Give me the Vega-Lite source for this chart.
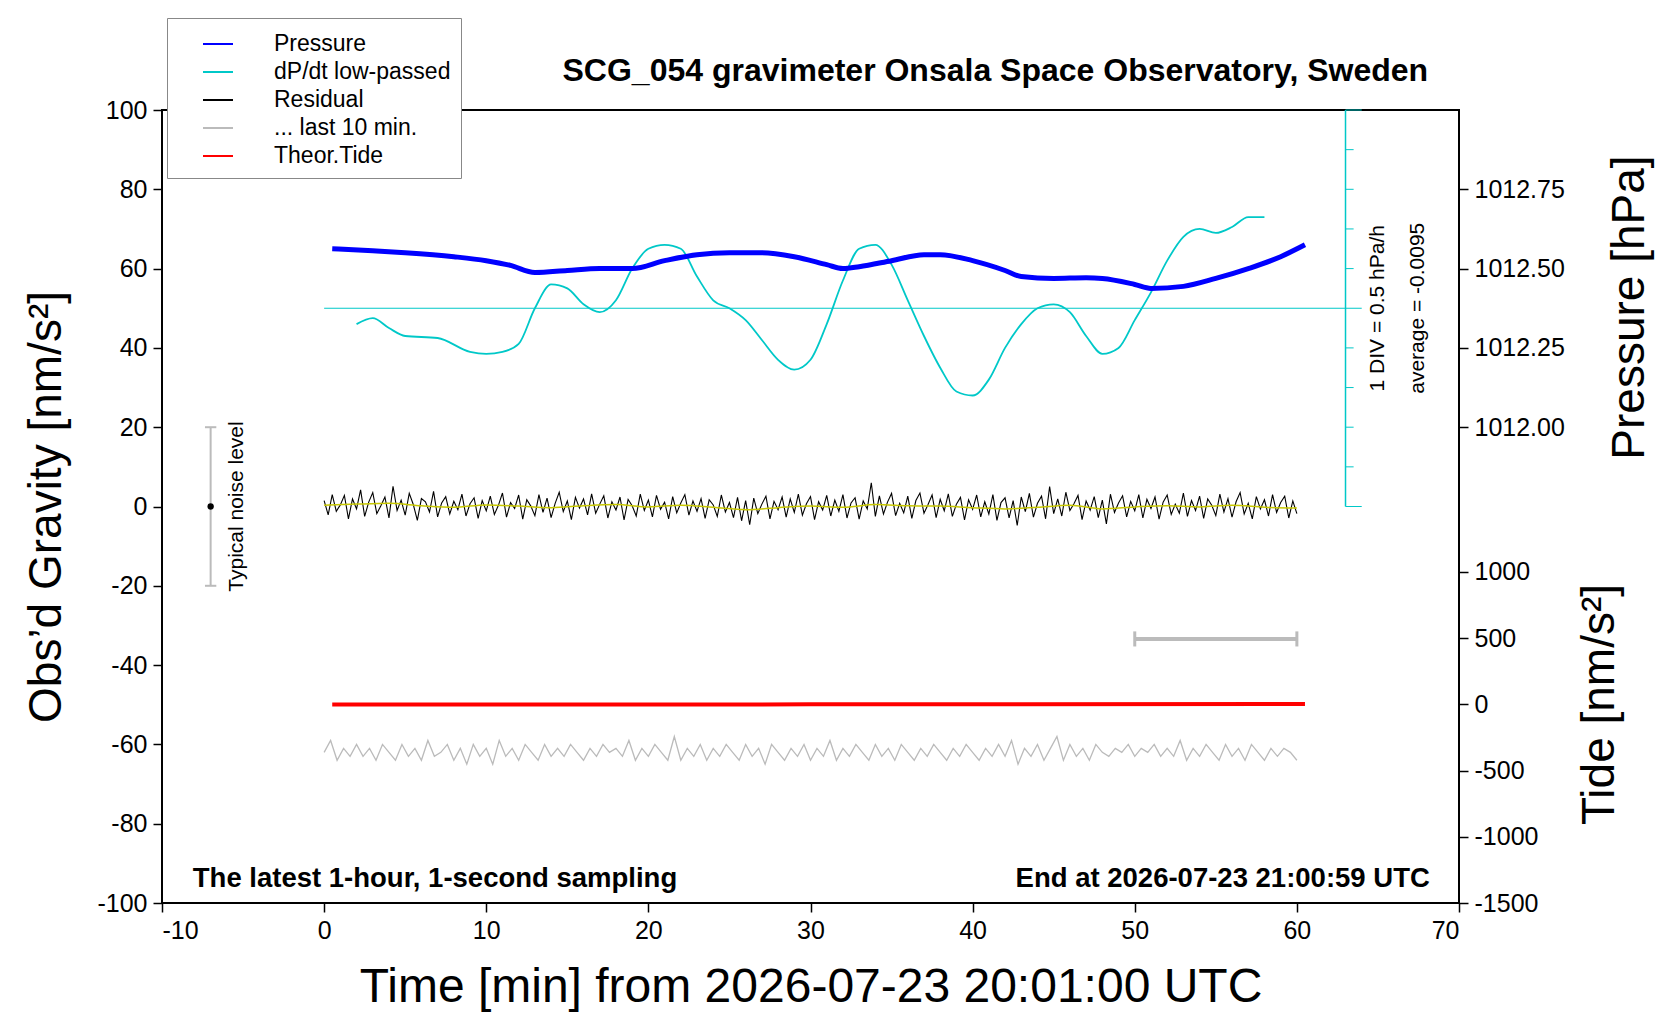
{
"$schema":"https://vega.github.io/schema/vega-lite/v6.json",
"width":1297,"height":793,"autosize":{"type":"none"},
"padding":{"left":162,"top":110,"right":201,"bottom":117},
"background":"white",
"config":{"font":"Liberation Sans","view":{"stroke":"black","strokeWidth":2},
"axis":{"domain":false,"grid":false,"tickColor":"black","tickSize":9,"tickWidth":1.5,"labelFontSize":25,"labelColor":"black","titleFontSize":46,"titleFontWeight":"normal","titleColor":"black","labelFont":"Liberation Sans","titleFont":"Liberation Sans"},
"legend":{"orient":"none","legendX":5,"legendY":-92,"fillColor":"white","strokeColor":"#888","padding":10,"symbolType":"stroke","symbolStrokeWidth":2,"symbolSize":900,"labelFontSize":23,"labelColor":"black","labelLimit":0,"rowPadding":0,"title":null,"labelOffset":40,"symbolOffset":25,"offset":0}},
"datasets":{
"pres":[{"t":0.5,"p":1012.5625},{"t":3,"p":1012.556},{"t":5,"p":1012.55},{"t":8,"p":1012.5375},{"t":10,"p":1012.525},{"t":11.5,"p":1012.51},{"t":13,"p":1012.4875},{"t":15,"p":1012.494},{"t":17,"p":1012.5},{"t":19,"p":1012.5},{"t":21,"p":1012.525},{"t":23,"p":1012.544},{"t":25,"p":1012.55},{"t":27,"p":1012.55},{"t":29,"p":1012.5375},{"t":31,"p":1012.5125},{"t":32,"p":1012.5},{"t":33,"p":1012.506},{"t":35,"p":1012.525},{"t":37,"p":1012.544},{"t":38,"p":1012.544},{"t":40,"p":1012.525},{"t":42,"p":1012.494},{"t":43,"p":1012.475},{"t":45,"p":1012.469},{"t":47,"p":1012.471},{"t":48,"p":1012.469},{"t":50,"p":1012.45},{"t":51,"p":1012.4375},{"t":53,"p":1012.444},{"t":55,"p":1012.469},{"t":57,"p":1012.5},{"t":59,"p":1012.5375},{"t":60.5,"p":1012.575}],
"dpdt":[{"t":2,"v":46},{"t":3,"v":47.5},{"t":4,"v":45},{"t":5,"v":43},{"t":7,"v":42.5},{"t":9,"v":39},{"t":10,"v":38.5},{"t":11,"v":39},{"t":12,"v":41},{"t":13,"v":50},{"t":14,"v":56},{"t":15,"v":55},{"t":16,"v":51},{"t":17,"v":49},{"t":18,"v":52},{"t":19,"v":60},{"t":20,"v":65},{"t":21,"v":66},{"t":22,"v":65},{"t":23,"v":58},{"t":24,"v":52},{"t":25,"v":50},{"t":26,"v":47},{"t":27,"v":42},{"t":28,"v":37},{"t":29,"v":34.5},{"t":30,"v":37},{"t":31,"v":46},{"t":32,"v":57},{"t":33,"v":65},{"t":34,"v":66},{"t":35,"v":61},{"t":36,"v":52},{"t":37,"v":43},{"t":38,"v":35},{"t":39,"v":29},{"t":40,"v":28},{"t":41,"v":32},{"t":42,"v":40},{"t":43,"v":46},{"t":44,"v":50},{"t":45,"v":51},{"t":46,"v":49},{"t":47,"v":43},{"t":48,"v":38.5},{"t":49,"v":40},{"t":50,"v":47},{"t":51,"v":54},{"t":52,"v":62},{"t":53,"v":68},{"t":54,"v":70},{"t":55,"v":69},{"t":56,"v":70.5},{"t":57,"v":73},{"t":58,"v":73}],
"resid":[{"t":0,"v":1.5},{"t":0.25,"v":-2.1},{"t":0.5,"v":3.0},{"t":0.75,"v":-1.2},{"t":1,"v":0.4},{"t":1.25,"v":2.8},{"t":1.5,"v":-3.1},{"t":1.75,"v":1.9},{"t":2,"v":-0.6},{"t":2.25,"v":4.2},{"t":2.5,"v":-2.5},{"t":2.75,"v":1.1},{"t":3,"v":3.5},{"t":3.25,"v":-1.8},{"t":3.5,"v":0.2},{"t":3.75,"v":2.4},{"t":4,"v":-2.9},{"t":4.25,"v":5.1},{"t":4.5,"v":-1.0},{"t":4.75,"v":1.6},{"t":5,"v":-2.2},{"t":5.25,"v":3.3},{"t":5.5,"v":0.5},{"t":5.75,"v":-3.5},{"t":6,"v":2.0},{"t":6.25,"v":1.2},{"t":6.5,"v":-1.4},{"t":6.75,"v":3.8},{"t":7,"v":-2.6},{"t":7.25,"v":0.9},{"t":7.5,"v":2.5},{"t":7.75,"v":-1.9},{"t":8,"v":1.3},{"t":8.25,"v":-0.8},{"t":8.5,"v":3.1},{"t":8.75,"v":-2.4},{"t":9,"v":0.7},{"t":9.25,"v":2.2},{"t":9.5,"v":-3.0},{"t":9.75,"v":1.5},{"t":10,"v":-1.1},{"t":10.25,"v":2.6},{"t":10.5,"v":-2.0},{"t":10.75,"v":0.3},{"t":11,"v":3.4},{"t":11.25,"v":-2.7},{"t":11.5,"v":1.0},{"t":11.75,"v":-0.5},{"t":12,"v":2.9},{"t":12.25,"v":-3.2},{"t":12.5,"v":1.7},{"t":12.75,"v":0.1},{"t":13,"v":-2.3},{"t":13.25,"v":3.0},{"t":13.5,"v":-1.5},{"t":13.75,"v":2.1},{"t":14,"v":-2.8},{"t":14.25,"v":0.8},{"t":14.5,"v":3.6},{"t":14.75,"v":-1.3},{"t":15,"v":1.4},{"t":15.25,"v":-3.3},{"t":15.5,"v":2.3},{"t":15.75,"v":-0.4},{"t":16,"v":1.9},{"t":16.25,"v":-2.1},{"t":16.5,"v":3.2},{"t":16.75,"v":-1.7},{"t":17,"v":0.6},{"t":17.25,"v":2.7},{"t":17.5,"v":-2.9},{"t":17.75,"v":1.2},{"t":18,"v":-0.9},{"t":18.25,"v":2.4},{"t":18.5,"v":-3.4},{"t":18.75,"v":1.8},{"t":19,"v":0.2},{"t":19.25,"v":-2.4},{"t":19.5,"v":3.1},{"t":19.75,"v":-1.0},{"t":20,"v":1.6},{"t":20.25,"v":-2.6},{"t":20.5,"v":2.8},{"t":20.75,"v":-0.7},{"t":21,"v":1.1},{"t":21.25,"v":-3.1},{"t":21.5,"v":2.5},{"t":21.75,"v":-1.6},{"t":22,"v":0.9},{"t":22.25,"v":3.0},{"t":22.5,"v":-2.2},{"t":22.75,"v":1.4},{"t":23,"v":-1.2},{"t":23.25,"v":2.0},{"t":23.5,"v":-3.0},{"t":23.75,"v":1.7},{"t":24,"v":0.4},{"t":24.25,"v":-2.5},{"t":24.5,"v":2.9},{"t":24.75,"v":-1.4},{"t":25,"v":1.0},{"t":25.25,"v":-2.8},{"t":25.5,"v":2.3},{"t":25.75,"v":-3.6},{"t":26,"v":1.5},{"t":26.25,"v":-4.6},{"t":26.5,"v":2.1},{"t":26.75,"v":-1.8},{"t":27,"v":0.6},{"t":27.25,"v":2.6},{"t":27.5,"v":-3.1},{"t":27.75,"v":1.3},{"t":28,"v":-0.8},{"t":28.25,"v":2.4},{"t":28.5,"v":-2.7},{"t":28.75,"v":1.9},{"t":29,"v":-1.5},{"t":29.25,"v":3.1},{"t":29.5,"v":-2.2},{"t":29.75,"v":0.7},{"t":30,"v":2.5},{"t":30.25,"v":-3.3},{"t":30.5,"v":1.2},{"t":30.75,"v":-0.9},{"t":31,"v":2.8},{"t":31.25,"v":-2.4},{"t":31.5,"v":1.6},{"t":31.75,"v":-1.2},{"t":32,"v":3.0},{"t":32.25,"v":-2.9},{"t":32.5,"v":0.9},{"t":32.75,"v":2.2},{"t":33,"v":-3.2},{"t":33.25,"v":1.4},{"t":33.5,"v":-0.6},{"t":33.75,"v":6.0},{"t":34,"v":-2.5},{"t":34.25,"v":2.7},{"t":34.5,"v":-1.9},{"t":34.75,"v":1.1},{"t":35,"v":3.3},{"t":35.25,"v":-2.3},{"t":35.5,"v":0.8},{"t":35.75,"v":-1.6},{"t":36,"v":2.6},{"t":36.25,"v":-3.0},{"t":36.5,"v":1.5},{"t":36.75,"v":3.4},{"t":37,"v":-1.7},{"t":37.25,"v":0.5},{"t":37.5,"v":2.9},{"t":37.75,"v":-2.8},{"t":38,"v":1.8},{"t":38.25,"v":-1.1},{"t":38.5,"v":3.2},{"t":38.75,"v":-2.5},{"t":39,"v":0.6},{"t":39.25,"v":2.3},{"t":39.5,"v":-3.4},{"t":39.75,"v":1.7},{"t":40,"v":-0.7},{"t":40.25,"v":2.9},{"t":40.5,"v":-2.6},{"t":40.75,"v":1.2},{"t":41,"v":-1.9},{"t":41.25,"v":3.0},{"t":41.5,"v":-3.5},{"t":41.75,"v":1.0},{"t":42,"v":2.2},{"t":42.25,"v":-2.9},{"t":42.5,"v":1.5},{"t":42.75,"v":-4.8},{"t":43,"v":2.4},{"t":43.25,"v":-1.3},{"t":43.5,"v":3.3},{"t":43.75,"v":-2.7},{"t":44,"v":0.8},{"t":44.25,"v":2.6},{"t":44.5,"v":-3.1},{"t":44.75,"v":5.0},{"t":45,"v":-1.8},{"t":45.25,"v":1.9},{"t":45.5,"v":-2.4},{"t":45.75,"v":3.6},{"t":46,"v":-1.0},{"t":46.25,"v":0.7},{"t":46.5,"v":2.8},{"t":46.75,"v":-3.3},{"t":47,"v":1.4},{"t":47.25,"v":-0.9},{"t":47.5,"v":2.5},{"t":47.75,"v":-2.8},{"t":48,"v":1.6},{"t":48.25,"v":-4.4},{"t":48.5,"v":3.1},{"t":48.75,"v":-1.5},{"t":49,"v":0.9},{"t":49.25,"v":2.7},{"t":49.5,"v":-2.6},{"t":49.75,"v":1.3},{"t":50,"v":-1.1},{"t":50.25,"v":3.0},{"t":50.5,"v":-2.9},{"t":50.75,"v":1.8},{"t":51,"v":-0.5},{"t":51.25,"v":2.4},{"t":51.5,"v":-3.2},{"t":51.75,"v":1.1},{"t":52,"v":2.9},{"t":52.25,"v":-2.0},{"t":52.5,"v":0.6},{"t":52.75,"v":-1.7},{"t":53,"v":3.4},{"t":53.25,"v":-2.5},{"t":53.5,"v":1.5},{"t":53.75,"v":-1.0},{"t":54,"v":2.6},{"t":54.25,"v":-3.0},{"t":54.5,"v":1.9},{"t":54.75,"v":0.3},{"t":55,"v":-2.3},{"t":55.25,"v":3.1},{"t":55.5,"v":-1.4},{"t":55.75,"v":2.0},{"t":56,"v":-2.7},{"t":56.25,"v":1.2},{"t":56.5,"v":3.5},{"t":56.75,"v":-1.9},{"t":57,"v":0.8},{"t":57.25,"v":-3.1},{"t":57.5,"v":2.5},{"t":57.75,"v":-0.6},{"t":58,"v":1.7},{"t":58.25,"v":-2.4},{"t":58.5,"v":3.0},{"t":58.75,"v":-1.5},{"t":59,"v":1.0},{"t":59.25,"v":2.6},{"t":59.5,"v":-2.9},{"t":59.75,"v":1.4},{"t":60,"v":-1.8}],
"smooth":[{"t":0,"v":0.3},{"t":2,"v":0.6},{"t":4,"v":0.8},{"t":6,"v":0.2},{"t":8,"v":-0.2},{"t":10,"v":0.4},{"t":12,"v":0.1},{"t":14,"v":-0.3},{"t":16,"v":0.2},{"t":18,"v":0.5},{"t":20,"v":-0.1},{"t":22,"v":0.3},{"t":24,"v":-0.2},{"t":26,"v":-0.8},{"t":28,"v":-0.3},{"t":30,"v":0.1},{"t":32,"v":-0.2},{"t":34,"v":0.5},{"t":36,"v":0.2},{"t":38,"v":0.1},{"t":40,"v":-0.3},{"t":42,"v":-0.6},{"t":44,"v":-0.2},{"t":46,"v":0.3},{"t":48,"v":-0.6},{"t":50,"v":-0.1},{"t":52,"v":0.2},{"t":54,"v":-0.1},{"t":56,"v":0.3},{"t":58,"v":-0.2},{"t":60,"v":-0.4}],
"grey":[{"t":0,"v":-62},{"t":0.4,"v":-59},{"t":0.8,"v":-64},{"t":1.2,"v":-61},{"t":1.6,"v":-63},{"t":2,"v":-60},{"t":2.4,"v":-63},{"t":2.8,"v":-61},{"t":3.2,"v":-64},{"t":3.6,"v":-60},{"t":4,"v":-62},{"t":4.4,"v":-64},{"t":4.8,"v":-60},{"t":5.2,"v":-63},{"t":5.6,"v":-61},{"t":6,"v":-64},{"t":6.4,"v":-59},{"t":6.8,"v":-63},{"t":7.2,"v":-62},{"t":7.6,"v":-60},{"t":8,"v":-64},{"t":8.4,"v":-61},{"t":8.8,"v":-65},{"t":9.2,"v":-60},{"t":9.6,"v":-63},{"t":10,"v":-61},{"t":10.4,"v":-65},{"t":10.8,"v":-59},{"t":11.2,"v":-63},{"t":11.6,"v":-61},{"t":12,"v":-64},{"t":12.4,"v":-60},{"t":12.8,"v":-62},{"t":13.2,"v":-64},{"t":13.6,"v":-60},{"t":14,"v":-63},{"t":14.4,"v":-61},{"t":14.8,"v":-63},{"t":15.2,"v":-60},{"t":15.6,"v":-62},{"t":16,"v":-64},{"t":16.4,"v":-61},{"t":16.8,"v":-63},{"t":17.2,"v":-60},{"t":17.6,"v":-62},{"t":18,"v":-61},{"t":18.4,"v":-63},{"t":18.8,"v":-59},{"t":19.2,"v":-64},{"t":19.6,"v":-61},{"t":20,"v":-63},{"t":20.4,"v":-60},{"t":20.8,"v":-62},{"t":21.2,"v":-64},{"t":21.6,"v":-58},{"t":22,"v":-64},{"t":22.4,"v":-61},{"t":22.8,"v":-63},{"t":23.2,"v":-60},{"t":23.6,"v":-64},{"t":24,"v":-61},{"t":24.4,"v":-63},{"t":24.8,"v":-60},{"t":25.2,"v":-62},{"t":25.6,"v":-64},{"t":26,"v":-60},{"t":26.4,"v":-63},{"t":26.8,"v":-61},{"t":27.2,"v":-65},{"t":27.6,"v":-60},{"t":28,"v":-62},{"t":28.4,"v":-64},{"t":28.8,"v":-61},{"t":29.2,"v":-63},{"t":29.6,"v":-60},{"t":30,"v":-64},{"t":30.4,"v":-61},{"t":30.8,"v":-63},{"t":31.2,"v":-59},{"t":31.6,"v":-64},{"t":32,"v":-61},{"t":32.4,"v":-63},{"t":32.8,"v":-60},{"t":33.2,"v":-62},{"t":33.6,"v":-64},{"t":34,"v":-60},{"t":34.4,"v":-63},{"t":34.8,"v":-61},{"t":35.2,"v":-64},{"t":35.6,"v":-60},{"t":36,"v":-62},{"t":36.4,"v":-64},{"t":36.8,"v":-61},{"t":37.2,"v":-63},{"t":37.6,"v":-60},{"t":38,"v":-62},{"t":38.4,"v":-64},{"t":38.8,"v":-61},{"t":39.2,"v":-63},{"t":39.6,"v":-60},{"t":40,"v":-62},{"t":40.4,"v":-64},{"t":40.8,"v":-61},{"t":41.2,"v":-63},{"t":41.6,"v":-60},{"t":42,"v":-63},{"t":42.4,"v":-59},{"t":42.8,"v":-65},{"t":43.2,"v":-61},{"t":43.6,"v":-63},{"t":44,"v":-60},{"t":44.4,"v":-64},{"t":44.8,"v":-61},{"t":45.2,"v":-58},{"t":45.6,"v":-64},{"t":46,"v":-60},{"t":46.4,"v":-63},{"t":46.8,"v":-61},{"t":47.2,"v":-64},{"t":47.6,"v":-60},{"t":48,"v":-62},{"t":48.4,"v":-63},{"t":48.8,"v":-61},{"t":49.2,"v":-62},{"t":49.6,"v":-60},{"t":50,"v":-63},{"t":50.4,"v":-61},{"t":50.8,"v":-62},{"t":51.2,"v":-60},{"t":51.6,"v":-63},{"t":52,"v":-61},{"t":52.4,"v":-63},{"t":52.8,"v":-59},{"t":53.2,"v":-64},{"t":53.6,"v":-61},{"t":54,"v":-63},{"t":54.4,"v":-60},{"t":54.8,"v":-62},{"t":55.2,"v":-64},{"t":55.6,"v":-60},{"t":56,"v":-63},{"t":56.4,"v":-61},{"t":56.8,"v":-64},{"t":57.2,"v":-60},{"t":57.6,"v":-62},{"t":58,"v":-64},{"t":58.4,"v":-61},{"t":58.8,"v":-63},{"t":59.2,"v":-61},{"t":59.6,"v":-62},{"t":60,"v":-64}],
"tide":[{"t":0.5,"v":-2},{"t":30,"v":0},{"t":60.5,"v":2}]
},
"encoding":{"x":{"field":"t","type":"quantitative","scale":{"domain":[-10,70],"nice":false,"zero":false},"axis":{"values":[-10,0,10,20,30,40,50,60,70],"labelExpr":"datum.value < 0 ? '-' + format(-datum.value,'d') : format(datum.value,'d')","title":"Time [min] from 2026-07-23 20:01:00 UTC","titleFontSize":48,"titlePadding":20,"labelPadding":6}}},
"resolve":{"scale":{"y":"independent"}},
"layer":[
{"encoding":{"y":{"field":"v","type":"quantitative","scale":{"domain":[-100,100],"nice":false,"zero":false},"axis":{"orient":"left","values":[-100,-80,-60,-40,-20,0,20,40,60,80,100],"labelExpr":"datum.value < 0 ? '-' + format(-datum.value,'d') : format(datum.value,'d')","title":"Obs’d Gravity [nm/s²]","titlePadding":26,"labelPadding":6}}},
 "layer":[
 {"data":{"values":[{"t":0,"v":50},{"t":64,"v":50}]},"mark":{"type":"line","color":"#00c8c8","strokeWidth":1.2}},
 {"data":{"values":[{"t":63,"v":0,"v2":100}]},"mark":{"type":"rule","color":"#00c8c8","strokeWidth":1.5},"encoding":{"y2":{"field":"v2"}}},
 {"data":{"values":[{"t":63,"t2":64,"v":0},{"t":63,"t2":63.5,"v":10},{"t":63,"t2":63.5,"v":20},{"t":63,"t2":63.5,"v":30},{"t":63,"t2":63.5,"v":40},{"t":63,"t2":63.5,"v":60},{"t":63,"t2":63.5,"v":70},{"t":63,"t2":63.5,"v":80},{"t":63,"t2":63.5,"v":90},{"t":63,"t2":64,"v":100}]},"mark":{"type":"rule","color":"#00c8c8","strokeWidth":1},"encoding":{"x2":{"field":"t2"}}},
 {"data":{"name":"dpdt"},"transform":[{"calculate":"'dP/dt low-passed'","as":"s"}],"mark":{"type":"line","strokeWidth":1.8,"interpolate":"monotone"},"encoding":{"color":{"field":"s","type":"nominal","scale":{"domain":["Pressure","dP/dt low-passed","Residual","... last 10 min.","Theor.Tide"],"range":["#0000ff","#00c8c8","#000000","#bbbbbb","#ff0000"]}}}},
 {"data":{"name":"resid"},"transform":[{"calculate":"'Residual'","as":"s"}],"mark":{"type":"line","strokeWidth":1.1},"encoding":{"color":{"field":"s","type":"nominal"}}},
 {"data":{"name":"smooth"},"mark":{"type":"line","color":"#c8c800","strokeWidth":1.5,"interpolate":"monotone"}},
 {"data":{"name":"grey"},"transform":[{"calculate":"'... last 10 min.'","as":"s"}],"mark":{"type":"line","strokeWidth":1.3},"encoding":{"color":{"field":"s","type":"nominal"}}},
 {"data":{"values":[{"t":50,"t2":60,"v":-33.4}]},"mark":{"type":"rule","color":"#bbbbbb","strokeWidth":4},"encoding":{"x2":{"field":"t2"}}},
 {"data":{"values":[{"t":50,"v":-31.5,"v2":-35.3},{"t":60,"v":-31.5,"v2":-35.3}]},"mark":{"type":"rule","color":"#bbbbbb","strokeWidth":3},"encoding":{"y2":{"field":"v2"}}},
 {"data":{"values":[{"t":-7,"v":-20,"v2":20}]},"mark":{"type":"rule","color":"#bbbbbb","strokeWidth":2},"encoding":{"y2":{"field":"v2"}}},
 {"data":{"values":[{"t":-7.35,"t2":-6.65,"v":20},{"t":-7.35,"t2":-6.65,"v":-20}]},"mark":{"type":"rule","color":"#bbbbbb","strokeWidth":2},"encoding":{"x2":{"field":"t2"}}},
 {"data":{"values":[{"t":-7,"v":0}]},"mark":{"type":"point","filled":true,"color":"black","size":40,"opacity":1}},
 {"data":{"values":[{"t":-5.4,"v":0,"txt":"Typical noise level"}]},"mark":{"type":"text","angle":270,"fontSize":21,"color":"black","align":"center","baseline":"middle"},"encoding":{"text":{"field":"txt"}}},
 {"data":{"values":[{"t":65.0,"v":50,"txt":"1 DIV = 0.5 hPa/h"},{"t":67.5,"v":50,"txt":"average = -0.0095"}]},"mark":{"type":"text","angle":270,"fontSize":21,"color":"black","align":"center","baseline":"middle"},"encoding":{"text":{"field":"txt"}}},
 {"data":{"values":[{"t":-8.1,"v":-94,"txt":"The latest 1-hour, 1-second sampling"}]},"mark":{"type":"text","fontSize":27.5,"fontWeight":"bold","color":"black","align":"left","baseline":"middle"},"encoding":{"text":{"field":"txt"}}},
 {"data":{"values":[{"t":68.2,"v":-94,"txt":"End at 2026-07-23 21:00:59 UTC"}]},"mark":{"type":"text","fontSize":27.5,"fontWeight":"bold","color":"black","align":"right","baseline":"middle"},"encoding":{"text":{"field":"txt"}}},
 {"data":{"values":[{"t":41.4,"v":109.8,"txt":"SCG_054 gravimeter Onsala Space Observatory, Sweden"}]},"mark":{"type":"text","fontSize":32,"fontWeight":"bold","color":"black","align":"center","baseline":"middle","clip":false},"encoding":{"text":{"field":"txt"}}}
 ]},
{"data":{"name":"pres"},"transform":[{"calculate":"'Pressure'","as":"s"}],"mark":{"type":"line","strokeWidth":5,"interpolate":"monotone"},
 "encoding":{"y":{"field":"p","type":"quantitative","scale":{"domain":[1010.5,1013.0],"nice":false,"zero":false},"axis":{"orient":"right","values":[1012,1012.25,1012.5,1012.75],"format":".2f","title":"Pressure [hPa]","titleAngle":270,"titleX":170,"titleY":197,"titleAlign":"center","titleBaseline":"middle","labelPadding":6}},"color":{"field":"s","type":"nominal"}}},
{"data":{"name":"tide"},"transform":[{"calculate":"'Theor.Tide'","as":"s"}],"mark":{"type":"line","strokeWidth":4},
 "encoding":{"y":{"field":"v","type":"quantitative","scale":{"domain":[-1500,4488],"nice":false,"zero":false},"axis":{"orient":"right","values":[-1500,-1000,-500,0,500,1000],"labelExpr":"datum.value < 0 ? '-' + format(-datum.value,'d') : format(datum.value,'d')","title":"Tide [nm/s²]","titleAngle":270,"titleX":140,"titleY":594,"titleAlign":"center","titleBaseline":"middle","labelPadding":6}},"color":{"field":"s","type":"nominal"}}}
]
}
